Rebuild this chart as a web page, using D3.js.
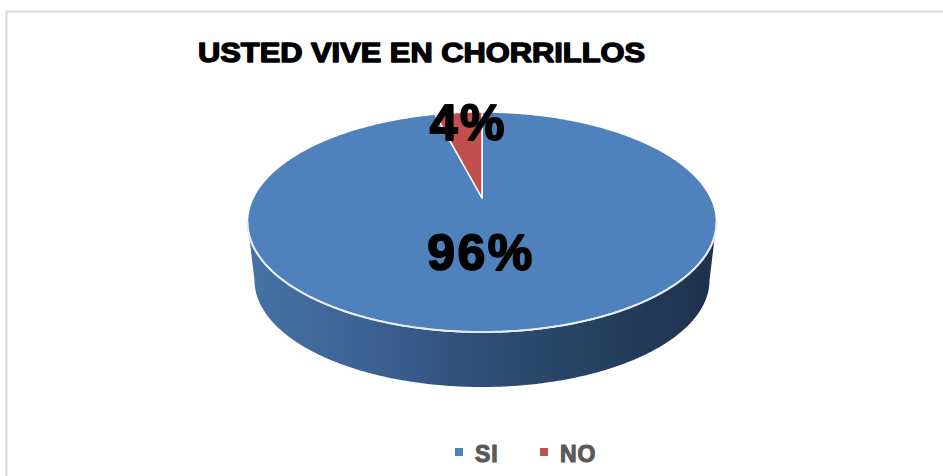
<!DOCTYPE html>
<html>
<head>
<meta charset="utf-8">
<script src="https://cdn.jsdelivr.net/npm/d3@7"></script>
<style>
  html, body { margin: 0; padding: 0; background: #fff; }
  svg { display: block; }
</style>
</head>
<body>
<svg id="chart" width="943" height="476"></svg>
<script>
// ---- data ----
const title = "USTED VIVE EN CHORRILLOS";
const categories = ["SI", "NO"];
const values = [96, 4];
const colors = ["#4f81bd", "#c0504d"];

// ---- setup ----
const svg = d3.select("#chart");
const W = 943, H = 476;

// frame
svg.append("path")
  .attr("d", `M6.5,${H} L6.5,11.5 L${W},11.5`)
  .attr("fill", "none").attr("stroke", "#d9d9d9").attr("stroke-width", 2);

// title
svg.append("text")
  .attr("x", 198).attr("y", 62)
  .attr("textLength", 447).attr("lengthAdjust", "spacingAndGlyphs")
  .attr("font-family", "Liberation Sans, Arial, sans-serif")
  .attr("font-weight", "bold").attr("font-size", 27)
  .attr("fill", "#000").attr("stroke", "#000").attr("stroke-width", 1.4)
  .attr("stroke-linejoin", "round")
  .text(title);

// ---- perspective pie projection ----
const cx = 482, cy = 198;
const A = 228.9, B = 104.8, K = -0.218;
const depth = 59, shrink = 0.97;

function proj(theta, r, level) {
  const u = r * Math.sin(theta), v = -r * Math.cos(theta);
  const s = level ? shrink : 1;
  const d = 1 + K * v;
  return [cx + s * A * u / d, cy + (level ? depth : 0) + s * B * v / d];
}

const color = d3.scaleOrdinal().domain(categories).range(colors);
const pie = d3.pie().sort(null).value(d => d.value);
const data = categories.map((c, i) => ({ cat: c, value: values[i] }));
const arcs = pie(data);

function arcPoints(a0, a1, r, level) {
  const n = Math.max(4, Math.ceil(Math.abs(a1 - a0) / 0.01));
  const pts = [];
  for (let i = 0; i <= n; i++) pts.push(proj(a0 + (a1 - a0) * i / n, r, level));
  return pts;
}

// side gradient
const defs = svg.append("defs");
const grad = defs.append("linearGradient").attr("id", "sideGrad")
  .attr("gradientUnits", "userSpaceOnUse")
  .attr("x1", 247).attr("y1", 0).attr("x2", 717).attr("y2", 0);
[[0, "#4772a6"], [0.25, "#3c6293"], [0.5, "#2f4e77"], [0.75, "#26405f"], [1, "#1e314b"]]
  .forEach(([o, c]) => grad.append("stop").attr("offset", o).attr("stop-color", c));

// visible front side: silhouette where v = -K
const tR = Math.acos(K);
const tL = 2 * Math.PI - tR;
const line = d3.line();
arcs.forEach(a => {
  const s0 = Math.max(a.startAngle, tR), s1 = Math.min(a.endAngle, tL);
  if (s1 <= s0) return;
  const top = arcPoints(s0, s1, 1, 0);
  const bot = arcPoints(s1, s0, 1, 1);
  svg.append("path")
    .attr("d", line(top.concat(bot)) + "Z")
    .attr("fill", a.data.cat === categories[0] ? "url(#sideGrad)" : d3.color(color(a.data.cat)).darker(1));
});

// top faces
arcs.forEach(a => {
  const pts = [[cx, cy]].concat(arcPoints(a.startAngle, a.endAngle, 1, 0));
  svg.append("path")
    .attr("d", line(pts) + "Z")
    .attr("fill", color(a.data.cat))
    .attr("stroke", "#fff").attr("stroke-width", 1.5).attr("stroke-linejoin", "round");
});

// rim highlight on front edge
svg.append("path")
  .attr("d", line(arcPoints(tR, tL, 1, 0)))
  .attr("fill", "none").attr("stroke", "#e8eef6").attr("stroke-width", 2);

// data labels
const labelPos = [proj(Math.PI, 0.47, 0), proj(arcs[1].startAngle + (arcs[1].endAngle - arcs[1].startAngle) / 2, 0.85, 0)];
arcs.forEach((a, i) => {
  const p = labelPos[i];
  svg.append("text")
    .attr("x", i === 0 ? p[0] - 1 : p[0] + 7).attr("y", p[1] + 17)
    .attr("text-anchor", "middle")
    .attr("letter-spacing", 2.5)
    .attr("font-family", "Liberation Sans, Arial, sans-serif")
    .attr("font-weight", "bold").attr("font-size", 50)
    .attr("fill", "#000").attr("stroke", "#000").attr("stroke-width", 1.8)
    .attr("stroke-linejoin", "round")
    .text(Math.round(a.data.value / d3.sum(values) * 100) + "%");
});

// legend
const legend = svg.append("g");
const legX = [455, 540];
categories.forEach((c, i) => {
  const g = legend.append("g").attr("transform", `translate(${legX[i]},452)`);
  g.append("rect").attr("x", 0).attr("y", -4).attr("width", 8).attr("height", 8).attr("fill", color(c));
  g.append("text").attr("x", 20).attr("y", 9.5)
    .attr("letter-spacing", 1)
    .attr("font-family", "Liberation Sans, Arial, sans-serif")
    .attr("font-weight", "bold").attr("font-size", 23)
    .attr("fill", "#595959").attr("stroke", "#595959").attr("stroke-width", 1.1)
    .attr("stroke-linejoin", "round")
    .text(c);
});
</script>
</body>
</html>
